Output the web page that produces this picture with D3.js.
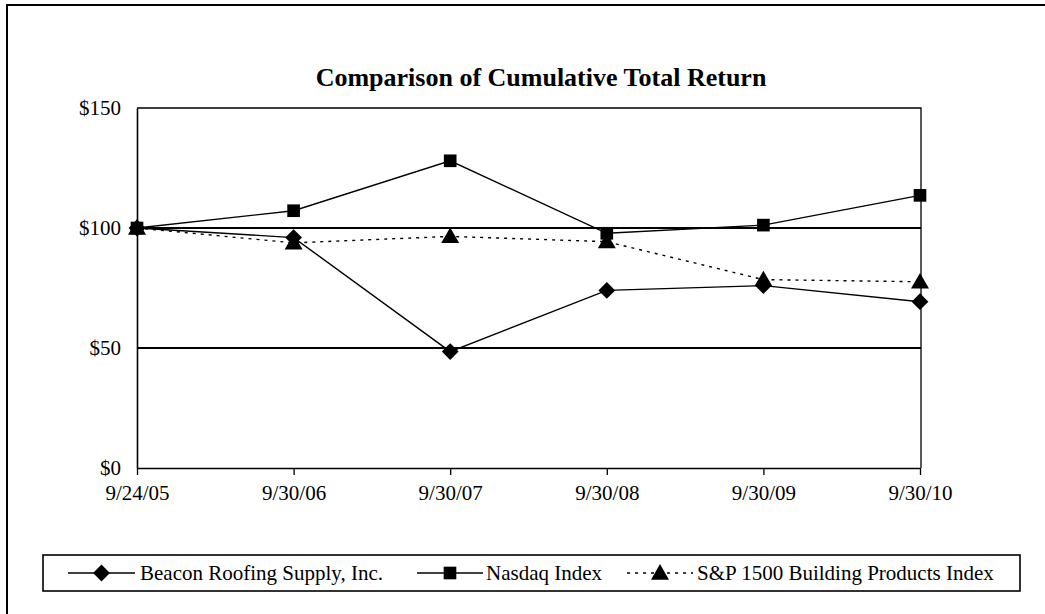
<!DOCTYPE html>
<html>
<head>
<meta charset="utf-8">
<script src="https://cdn.jsdelivr.net/npm/d3@7/dist/d3.min.js"></script>
<style>
  html, body { margin: 0; padding: 0; background: #fff; }
  svg { display: block; font-family: "Liberation Serif", "Times New Roman", serif; }
</style>
</head>
<body>
<svg id="chart" width="1045" height="614"></svg>
<script>
const categories = ["9/24/05", "9/30/06", "9/30/07", "9/30/08", "9/30/09", "9/30/10"];
const beacon = [100, 96, 48.5, 74, 76, 69.3];
const nasdaq = [100, 107.2, 128, 97.8, 101.2, 113.6];
const sp1500 = [100, 93.8, 96.5, 94.3, 78.5, 77.6];
const yTicks = [0, 50, 100, 150];
const yTickLabels = ["$0", "$50", "$100", "$150"];
const seriesNames = ["Beacon Roofing Supply, Inc.", "Nasdaq Index", "S&P 1500 Building Products Index"];

const svg = d3.select("#chart");
const W = 1045, H = 614;
const plot = { left: 137, right: 921, top: 108, bottom: 468 };

const x = d3.scalePoint().domain(categories).range([plot.left, plot.right - 1]);
const y = d3.scaleLinear().domain([0, 150]).range([plot.bottom, plot.top]);

// outer frame (extends beyond right/bottom edge)
svg.append("path")
  .attr("d", `M${W + 5},5 H7 V${H + 5}`)
  .attr("fill", "none").attr("stroke", "#000").attr("stroke-width", 2);

// title
svg.append("text")
  .attr("x", 541).attr("y", 86)
  .attr("text-anchor", "middle")
  .attr("font-weight", "bold")
  .attr("font-size", 26)
  .text("Comparison of Cumulative Total Return");

// plot border (top and right)
svg.append("path")
  .attr("d", `M${plot.left},${plot.top} H${plot.right} V${plot.bottom}`)
  .attr("fill", "none").attr("stroke", "#000").attr("stroke-width", 1.3);

// gridlines
svg.append("g").selectAll("line")
  .data(yTicks.filter(v => v > 0 && v < 150))
  .join("line")
  .attr("x1", plot.left).attr("x2", plot.right)
  .attr("y1", d => y(d)).attr("y2", d => y(d))
  .attr("stroke", "#000").attr("stroke-width", 1.3)
  .attr("shape-rendering", "crispEdges");

// y axis
const yAxis = d3.axisLeft(y).tickValues(yTicks)
  .tickFormat((d, i) => yTickLabels[i]).tickSize(0).tickPadding(16);
const gy = svg.append("g").attr("transform", `translate(${plot.left},0)`).call(yAxis);
gy.attr("font-family", null);
gy.select(".domain").attr("stroke", "#000").attr("stroke-width", 1.6);
gy.selectAll("text").attr("font-size", 21).attr("font-family", "Liberation Serif").attr("fill", "#000");

// x axis
const xAxis = d3.axisBottom(x).tickSize(7).tickSizeOuter(0).tickPadding(10);
const gx = svg.append("g").attr("transform", `translate(0,${plot.bottom})`).call(xAxis);
gx.attr("font-family", null);
gx.select(".domain").attr("stroke", "#000").attr("stroke-width", 1.6);
gx.selectAll(".tick line").attr("stroke", "#000").attr("stroke-width", 1.3);
gx.selectAll("text").attr("font-size", 21).attr("font-family", "Liberation Serif").attr("fill", "#000");

const sym = {
  diamond: d3.symbol().type(d3.symbolDiamond2).size(180),
  square: d3.symbol().type(d3.symbolSquare).size(160),
  triangle: d3.symbol().type(d3.symbolTriangle).size(140)
};

const series = [
  { name: seriesNames[0], values: beacon, marker: "diamond", dash: null },
  { name: seriesNames[1], values: nasdaq, marker: "square", dash: null },
  { name: seriesNames[2], values: sp1500, marker: "triangle", dash: "3,5" }
];

const line = d3.line().x((d, i) => x(categories[i])).y(d => y(d));

series.forEach(s => {
  svg.append("path")
    .attr("d", line(s.values))
    .attr("fill", "none").attr("stroke", "#000").attr("stroke-width", 1.4)
    .attr("stroke-dasharray", s.dash);
});
series.forEach(s => {
  svg.append("g").selectAll("path")
    .data(s.values)
    .join("path")
    .attr("d", sym[s.marker])
    .attr("transform", (d, i) => `translate(${x(categories[i])},${y(d) + (s.marker === "triangle" ? 1.5 : 0)})`)
    .attr("fill", "#000");
});

// legend
svg.append("rect")
  .attr("x", 43).attr("y", 555).attr("width", 977).attr("height", 36)
  .attr("fill", "none").attr("stroke", "#000").attr("stroke-width", 1.6);

const legendItems = [
  { x1: 68, x2: 135, tx: 140 },
  { x1: 417, x2: 483, tx: 486 },
  { x1: 627, x2: 693, tx: 697 }
];
series.forEach((s, i) => {
  const it = legendItems[i];
  const ly = 573;
  svg.append("line")
    .attr("x1", it.x1).attr("x2", it.x2).attr("y1", ly).attr("y2", ly)
    .attr("stroke", "#000").attr("stroke-width", 1.4)
    .attr("stroke-dasharray", s.dash);
  svg.append("path")
    .attr("d", sym[s.marker])
    .attr("transform", `translate(${(it.x1 + it.x2) / 2},${ly + (s.marker === "triangle" ? 1.5 : 0)})`)
    .attr("fill", "#000");
  svg.append("text")
    .attr("x", it.tx).attr("y", ly + 7)
    .attr("font-size", 21)
    .text(s.name);
});
</script>
</body>
</html>
